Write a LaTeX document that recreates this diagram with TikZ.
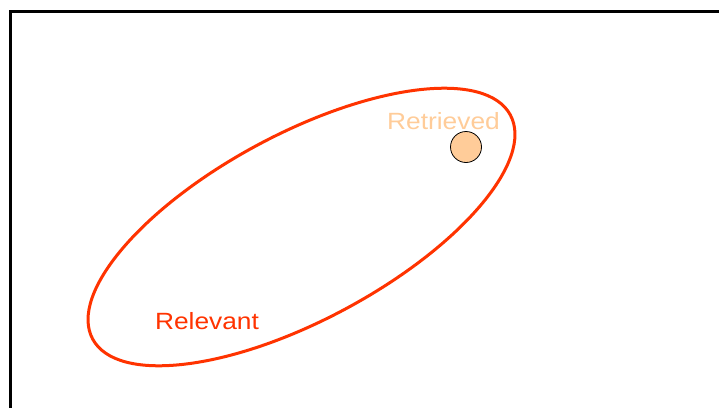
\documentclass[tikz,border=0pt]{standalone}
\usepackage{fontspec}
\setmainfont{Liberation Sans}
\usetikzlibrary{shapes.geometric}
\definecolor{relred}{HTML}{FF3300}
\definecolor{peach}{HTML}{FFCC99}
\begin{document}
\begin{tikzpicture}[x=1pt,y=-1pt,
  lbl/.style={inner sep=0pt,anchor=base,font=\fontsize{23.5}{23.5}\selectfont}]
\useasboundingbox (0,0) rectangle (719,407);
\begin{scope}
\clip (0,0) rectangle (719,407);
\draw[line width=2.8pt] (10.5,11.5) rectangle (740,430);
\end{scope}
\node[draw=relred,line width=3pt,ellipse,minimum width=474pt,minimum height=186pt,inner sep=0pt,rotate=28.2] (relevant set) at (301.5,227) {};
\node[lbl,text=relred,xscale=1.12] (relevant) at (207,329) {Relevant};
\node[lbl,text=peach,xscale=1.12] (retrieved) at (443.5,129) {Retrieved};
\node[circle,draw=black,fill=peach,line width=0.8pt,minimum size=31pt,inner sep=0pt] (doc) at (466,147) {};
\end{tikzpicture}
\end{document}
